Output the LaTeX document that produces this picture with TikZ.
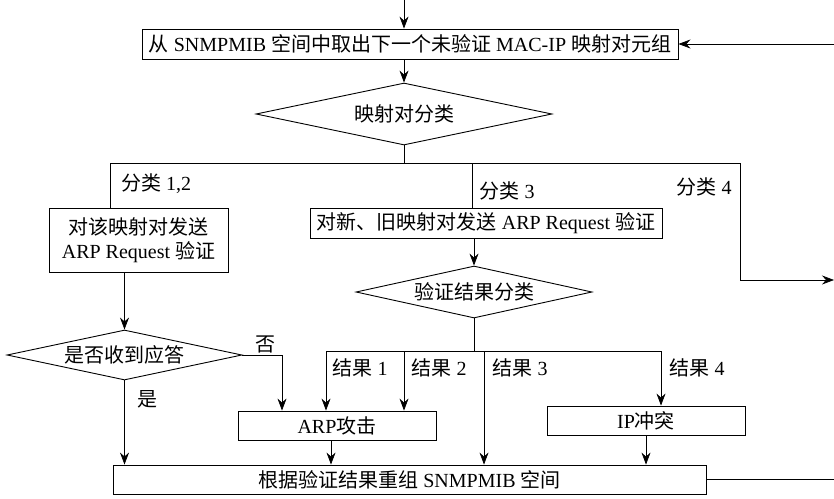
\documentclass[tikz,border=0pt]{standalone}
\usepackage{fontspec}
\setmainfont{Liberation Serif}
\newfontfamily\cjk{Noto Sans CJK SC}
\usetikzlibrary{shapes.geometric,arrows.meta}
\newcommand\zh[1]{{\cjk #1}}
\begin{document}
\begin{tikzpicture}[x=1pt,y=-1pt,
 font=\fontsize{20}{24}\selectfont,
 line width=0.7pt,
 arr/.style={-{Stealth[length=12pt,width=9pt,inset=4pt]}},
 box/.style={draw,line width=0.9pt,inner sep=0pt,rectangle,align=center},
 dia/.style={draw,line width=0.9pt,inner sep=0pt,diamond,aspect=4.5},
 lab/.style={inner sep=0pt}]
\useasboundingbox (0,0) rectangle (834,498);

% nodes
\node[box,minimum width=536pt,minimum height=30pt] (tb) at (410,44)
  {\zh{从} SNMPMIB \zh{空间中取出下一个未验证} MAC-IP \zh{映射对元组}};
\node[dia,minimum width=296pt,minimum height=62pt] (d1) at (404,114) {\zh{映射对分类}};
\node[box,minimum width=179pt,minimum height=64pt] (lb) at (138.5,240)
  {\zh{对该映射对发送}\\ARP Request \zh{验证}};
\node[box,minimum width=352pt,minimum height=30pt] (mb) at (486,223)
  {\zh{对新、旧映射对发送} ARP Request \zh{验证}};
\node[dia,minimum width=236pt,minimum height=52pt] (d2) at (474,292) {\zh{验证结果分类}};
\node[dia,minimum width=235pt,minimum height=50pt] (d3) at (124.5,355) {\zh{是否收到应答}};
\node[box,minimum width=198pt,minimum height=29pt] (arp) at (337,425.5) {ARP\zh{攻击}};
\node[box,minimum width=198pt,minimum height=29pt] (ip) at (646,420.5) {IP\zh{冲突}};
\node[box,minimum width=593pt,minimum height=29pt] (bb) at (409.5,479.5)
  {\zh{根据验证结果重组} SNMPMIB \zh{空间}};

% labels
\node[lab] (l12) at (156,184) {\zh{分类} 1,2};
\node[lab] (l3) at (507,191) {\zh{分类} 3};
\node[lab] (l4) at (704,187) {\zh{分类} 4};
\node[lab] (r1l) at (360,368) {\zh{结果} 1};
\node[lab] (r2l) at (439,368) {\zh{结果} 2};
\node[lab] (r3l) at (520,368) {\zh{结果} 3};
\node[lab] (r4l) at (697,368) {\zh{结果} 4};
\node[lab] (no) at (265,344) {\zh{否}};
\node[lab] (yes) at (147,399) {\zh{是}};

% coordinates
\coordinate (in) at (404,0);
\coordinate (ret) at (834,44);
\coordinate (bl) at (110,163);
\coordinate (bm) at (472,163);
\coordinate (br) at (740,163);
\coordinate (out4) at (834,280);
\coordinate (r1) at (326,351);
\coordinate (r2) at (404,351);
\coordinate (r3) at (484,351);
\coordinate (r4) at (661,351);
\coordinate (nx) at (282,355);
\coordinate (bbout) at (834,479);

% connectors
\draw[arr] (in) -- (tb.north -| in);
\draw[arr] (ret) -- (tb.east |- ret);
\draw[arr] (tb.south -| d1.north) -- (d1.north);
\draw (d1.south) -- (d1.south |- bl);
\draw (bl) -- (br);
\draw (bl) -- (bl |- lb.north);
\draw (bm) -- (bm |- mb.north);
\draw[arr] (br) -- (br |- out4) -- (out4);
\draw[arr] (mb.south -| d2.north) -- (d2.north);
\draw (d2.south) -- (d2.south |- r1);
\draw (r1) -- (r4);
\draw[arr] (r1) -- (r1 |- arp.north);
\draw[arr] (r2) -- (r2 |- arp.north);
\draw[arr] (r3) -- (r3 |- bb.north);
\draw[arr] (r4) -- (r4 |- ip.north);
\draw[arr] (lb.south -| d3.north) -- (d3.north);
\draw[arr] (d3.east) -- (nx) -- (nx |- arp.north);
\draw[arr] (d3.south) -- (d3.south |- bb.north);
\draw[arr] (arp.south -| 331,0) -- (bb.north -| 331,0);
\draw[arr] (ip.south) -- (ip.south |- bb.north);
\draw (bb.east |- bbout) -- (bbout);
\end{tikzpicture}
\end{document}
